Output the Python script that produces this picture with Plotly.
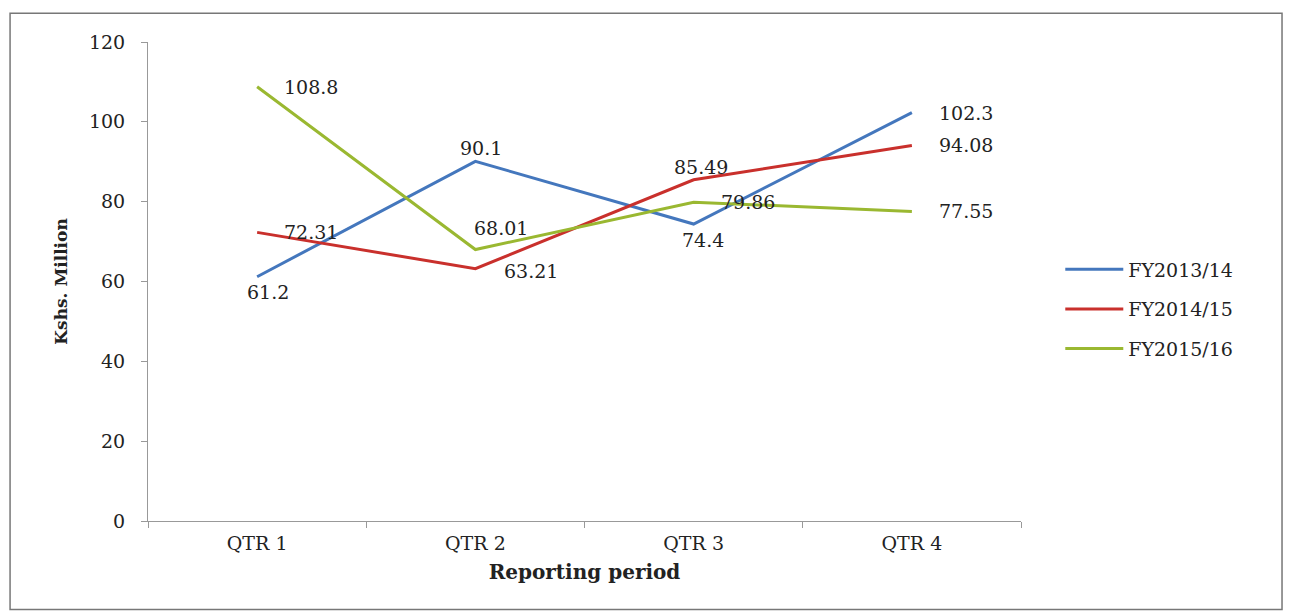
import plotly.graph_objects as go

quarters = ["QTR 1", "QTR 2", "QTR 3", "QTR 4"]
fy_2013_14 = [61.2, 90.1, 74.4, 102.3]
fy_2014_15 = [72.31, 63.21, 85.49, 94.08]
fy_2015_16 = [108.8, 68.01, 79.86, 77.55]
series_names = ["FY2013/14", "FY2014/15", "FY2015/16"]

colors = ["#4477bd", "#c9302c", "#9ab831"]
font_family = "DejaVu Serif, Times New Roman, serif"

# label placement per point: (xanchor, xshift, yshift)
label_spots = [
    [("center", 11, -15), ("center", 6, 13), ("center", 9, -16), ("left", 25, 0)],
    [("left", 25, 0), ("left", 27, -2), ("center", 7, 13), ("left", 25, 0)],
    [("left", 25, 0), ("left", -3, 22), ("left", 25, 0), ("left", 25, 0)],
]

fig = go.Figure()
annotations = []
for name, values, color, spots in zip(series_names, [fy_2013_14, fy_2014_15, fy_2015_16], colors, label_spots):
    fig.add_trace(go.Scatter(
        x=quarters, y=values, mode="lines", name=name, legendgroup=name,
        line=dict(color=color, width=3)))
    for q, v, (anchor, dx, dy) in zip(quarters, values, spots):
        annotations.append(dict(
            x=q, y=v, text=f"{v:.2f}".rstrip("0").rstrip("."), showarrow=False,
            xanchor=anchor, yanchor="middle", xshift=dx, yshift=dy,
            font=dict(size=19, color="#222")))

fig.update_layout(
    width=1284, height=606,
    margin=dict(l=140, r=271, t=34, b=93),
    paper_bgcolor="white", plot_bgcolor="white",
    font=dict(family=font_family, size=19, color="#222"),
    annotations=annotations,
    legend=dict(x=1.045, y=0.565, xanchor="left", yanchor="top",
                font=dict(size=19), itemwidth=58, tracegroupgap=12),
    shapes=[dict(type="rect", xref="paper", yref="paper",
                 x0=-0.158, x1=1.299, y0=-0.185, y1=1.06,
                 line=dict(color="#777", width=1.5))],
)
fig.update_xaxes(
    range=[-0.5, 3.5],
    showline=True, linecolor="#999", linewidth=1,
    ticks="outside", tickson="boundaries", ticklen=6, tickcolor="#999",
    showgrid=False, tickfont=dict(size=19), ticklabelstandoff=5,
    title=dict(text="<b>Reporting period</b>", font=dict(size=20), standoff=12))
fig.update_yaxes(
    range=[0, 120], dtick=20, showline=True, linecolor="#999", linewidth=1,
    ticks="outside", ticklen=6, tickcolor="#999", showgrid=False, zeroline=False,
    tickfont=dict(size=19), ticklabelstandoff=12,
    title=dict(text="<b>Kshs. Million</b>", font=dict(size=17), standoff=16))

fig.write_html("out.html")
